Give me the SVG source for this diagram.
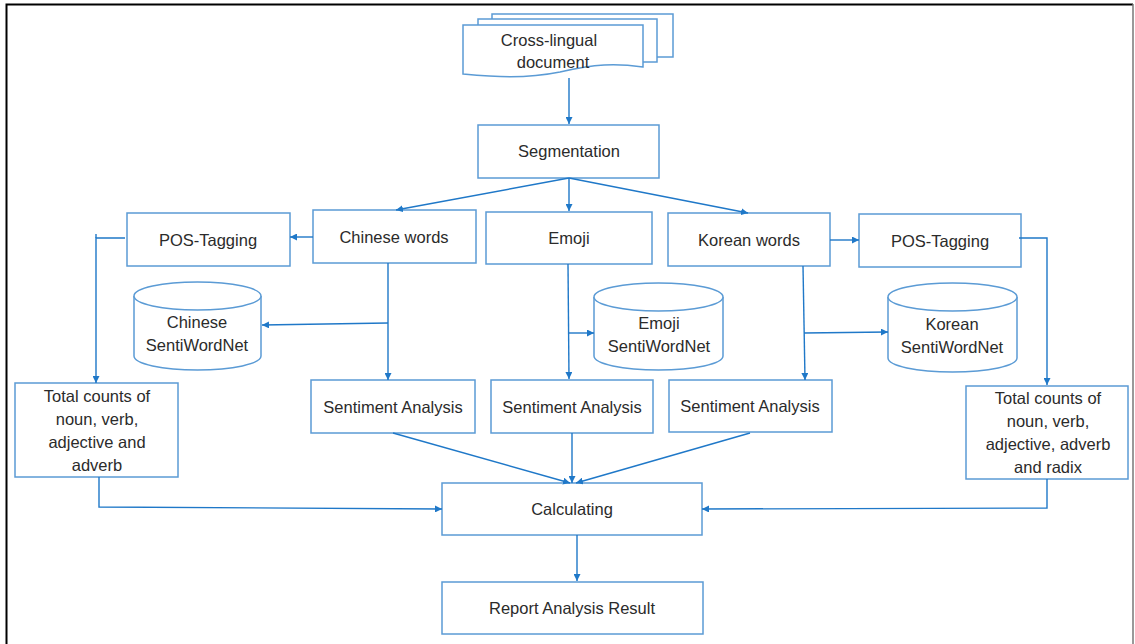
<svg xmlns="http://www.w3.org/2000/svg" width="1135" height="644" viewBox="0 0 1135 644">
<defs>
<style>
.box{fill:#fff;stroke:#5b9bd5;stroke-width:1.5}
.c{fill:none;stroke:#1f78c8;stroke-width:1.4}
text{font-family:"Liberation Sans",Arial,sans-serif;font-size:16.5px;fill:#2b2b2b;text-anchor:middle}
</style>
<marker id="ah" viewBox="0 0 10 10" refX="10" refY="5" markerWidth="7" markerHeight="7" markerUnits="userSpaceOnUse" orient="auto">
<path d="M0,0 L10,5 L0,10 Z" fill="#1f78c8"/>
</marker>
</defs>
<rect x="0" y="0" width="1135" height="644" fill="#fff"/>
<path d="M6.5,644 V4.5 H1133" fill="none" stroke="#000" stroke-width="2"/>
<line x1="1133" y1="4" x2="1133" y2="644" stroke="#777" stroke-width="1.5"/>

<g id="doc">
<rect class="box" x="492" y="14" width="181" height="43"/>
<rect class="box" x="478" y="19" width="179" height="43"/>
<path class="box" d="M463,25 H643 V67 C615,63 595,64 560,72 C525,79 495,77 463,74 Z"/>
<text x="549" y="46">Cross-lingual</text>
<text x="553" y="68">document</text>
</g>
<g id="seg"><rect class="box" x="478" y="125" width="181" height="53"/><text x="569" y="157">Segmentation</text></g>
<g id="pos1"><rect class="box" x="127" y="213" width="163" height="53"/><text x="208" y="246">POS-Tagging</text></g>
<g id="cw"><rect class="box" x="313" y="210" width="163" height="53"/><text x="394" y="243">Chinese words</text></g>
<g id="emoji"><rect class="box" x="486" y="212" width="166" height="52"/><text x="569" y="244">Emoji</text></g>
<g id="kw"><rect class="box" x="668" y="213" width="162" height="53"/><text x="749" y="246">Korean words</text></g>
<g id="pos2"><rect class="box" x="859" y="214" width="162" height="53"/><text x="940" y="247">POS-Tagging</text></g>

<g id="csw">
<path class="box" d="M134,296 V356 A63.5,14 0 0 0 261,356 V296"/>
<ellipse class="box" cx="197.5" cy="296" rx="63.5" ry="14"/>
<text x="197" y="328">Chinese</text>
<text x="197" y="351">SentiWordNet</text>
</g>
<g id="esw">
<path class="box" d="M594,297 V356 A64.5,14 0 0 0 723,356 V297"/>
<ellipse class="box" cx="658.5" cy="297" rx="64.5" ry="14"/>
<text x="659" y="329">Emoji</text>
<text x="659" y="352">SentiWordNet</text>
</g>
<g id="ksw">
<path class="box" d="M888,297 V358 A64.5,14 0 0 0 1017,358 V297"/>
<ellipse class="box" cx="952.5" cy="297" rx="64.5" ry="14"/>
<text x="952" y="330">Korean</text>
<text x="952" y="353">SentiWordNet</text>
</g>

<g id="tc1"><rect class="box" x="15" y="383" width="163" height="94"/>
<text x="97" y="402">Total counts of</text><text x="97" y="425">noun, verb,</text><text x="97" y="448">adjective and</text><text x="97" y="471">adverb</text></g>
<g id="sa1"><rect class="box" x="311" y="380" width="164" height="53"/><text x="393" y="413">Sentiment Analysis</text></g>
<g id="sa2"><rect class="box" x="491" y="380" width="162" height="53"/><text x="572" y="413">Sentiment Analysis</text></g>
<g id="sa3"><rect class="box" x="669" y="380" width="163" height="52"/><text x="750" y="412">Sentiment Analysis</text></g>
<g id="tc2"><rect class="box" x="966" y="386" width="162" height="93"/>
<text x="1048" y="404">Total counts of</text><text x="1048" y="427">noun, verb,</text><text x="1048" y="450">adjective, adverb</text><text x="1048" y="473">and radix</text></g>
<g id="calc"><rect class="box" x="442" y="483" width="260" height="52"/><text x="572" y="515">Calculating</text></g>
<g id="rep"><rect class="box" x="442" y="582" width="261" height="52"/><text x="572" y="614">Report Analysis Result</text></g>

<g id="connectors">
<line class="c" x1="569" y1="78" x2="569" y2="124" marker-end="url(#ah)"/>
<line class="c" x1="569" y1="178" x2="396" y2="210" marker-end="url(#ah)"/>
<line class="c" x1="569" y1="178" x2="569" y2="211" marker-end="url(#ah)"/>
<line class="c" x1="569" y1="178" x2="748" y2="213" marker-end="url(#ah)"/>
<line class="c" x1="313" y1="237" x2="290" y2="237" marker-end="url(#ah)"/>
<line class="c" x1="830" y1="240" x2="859" y2="240" marker-end="url(#ah)"/>
<polyline class="c" points="125,238 96,238 96,383" marker-end="url(#ah)"/>
<line class="c" x1="96" y1="234" x2="96" y2="238"/>
<polyline class="c" points="1019,238 1047,238 1047,385" marker-end="url(#ah)"/>
<line class="c" x1="388" y1="263" x2="388" y2="380" marker-end="url(#ah)"/>
<line class="c" x1="388" y1="323" x2="262" y2="325" marker-end="url(#ah)"/>
<line class="c" x1="568" y1="264" x2="569" y2="379" marker-end="url(#ah)"/>
<line class="c" x1="569" y1="333" x2="594" y2="333" marker-end="url(#ah)"/>
<line class="c" x1="803" y1="266" x2="805" y2="380" marker-end="url(#ah)"/>
<line class="c" x1="804" y1="333" x2="888" y2="332" marker-end="url(#ah)"/>
<line class="c" x1="393" y1="433" x2="570" y2="483" marker-end="url(#ah)"/>
<line class="c" x1="572" y1="433" x2="572" y2="483" marker-end="url(#ah)"/>
<line class="c" x1="750" y1="433" x2="576" y2="483" marker-end="url(#ah)"/>
<polyline class="c" points="99,477 99,507 442,509" marker-end="url(#ah)"/>
<polyline class="c" points="1047,479 1047,508 702,509" marker-end="url(#ah)"/>
<line class="c" x1="577" y1="535" x2="577" y2="581" marker-end="url(#ah)"/>
</g>
</svg>
